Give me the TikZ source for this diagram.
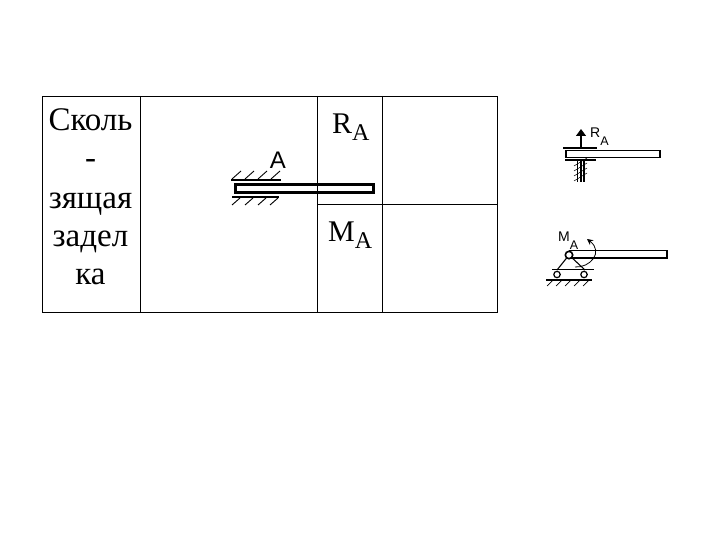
\documentclass[tikz,border=0pt]{standalone}
\usepackage{fontspec}
\setmainfont{Liberation Serif}
\newfontfamily\labelfont{Liberation Sans}
\usetikzlibrary{arrows.meta}
\newcommand{\cellsub}[1]{\raisebox{-7pt}{\fontsize{24}{24}\selectfont #1}}
\newcommand{\schemesub}[1]{\raisebox{-8pt}{\fontsize{12.5}{12.5}\selectfont #1}}
\tikzset{
    celltext/.style={font=\fontsize{33}{38}\selectfont, inner sep=0pt},
    schemetext/.style={font=\labelfont\fontsize{14}{14}\selectfont, inner sep=0pt},
    hatch/.style={line width=0.9}
}
\begin{document}
\begin{tikzpicture}[x=1pt,y=-1pt]
\useasboundingbox (0,0) rectangle (720,540);

% table
\draw [line width=0.8] (42,96) rectangle (497,312);
\foreach \x in {140,317,382}
    \draw [line width=0.8] (\x,96) -- (\x,312);
\draw [line width=0.8] (317,204) -- (497,204);

\node [celltext, anchor=base] (name1) at (90.5,131) {Сколь};
\node [celltext, anchor=base] (name2) at (90.5,169) {-};
\node [celltext, anchor=base] (name3) at (90.5,208) {зящая};
\node [celltext, anchor=base] (name4) at (90.5,246) {задел};
\node [celltext, anchor=base] (name5) at (90.5,284) {ка};
\node [celltext, anchor=base west, font=\fontsize{30}{30}\selectfont] (ra) at (332,134) {R\cellsub{A}};
\node [celltext, anchor=base west, font=\fontsize{30}{30}\selectfont] (ma) at (328,241) {M\cellsub{A}};

% clamped beam
\draw [line width=3] (235,184.5) rectangle (373,192.5);
\draw [line width=2.4] (231,180) -- (281,180);
\draw [line width=2.4] (232,197) -- (279,197);
\foreach \x in {232,245,258,271}
    \draw [hatch] (\x,179) -- (\x+9,171);
\foreach \x in {232,245,258,270}
    \draw [hatch] (\x,205) -- (\x+8,198);
\node [font=\labelfont\fontsize{24}{24}\selectfont, inner sep=0pt] (a) at (278,160) {A};

% top support
\draw [line width=1.8] (566,150.5) rectangle (660,157.5);
\draw [line width=1.4] (563,148) -- (597,148);
\draw [line width=1.4] (565,160) -- (596,160);
\draw [-{Triangle[length=7pt,width=10pt]}, line width=1.2] (581,148) -- (581,129);
\foreach \x in {577.5,581,584}
    \draw [line width=1.1] (\x,160) -- (\x,182);
\foreach \y in {166,171,176,181}
    \draw [line width=0.5] (574,\y) -- (587,\y-8);
\node [schemetext, anchor=base west] (ra2) at (590,138) {R\schemesub{A}};

% bottom support
\draw [line width=1.8] (570,250.5) rectangle (667,258);
\draw [line width=1.1] (569,255) -- (557,270);
\draw [line width=1.1] (569,255) -- (585,270);
\draw [line width=1.6, fill=white] (569,255) circle (3.7);
\draw [line width=1.5] (552,269.5) -- (594,269.5);
\draw [line width=1.2, fill=white] (557,274.5) circle (3.2);
\draw [line width=1.2, fill=white] (584,274.5) circle (3.2);
\draw [line width=1.5] (546,280) -- (592,280);
\foreach \x in {547,556,565,574,583}
    \draw [line width=0.7] (\x,286) -- (\x+6,280);
\draw [line width=0.8, -{Stealth[length=6pt,width=6pt]}] (575,267) .. controls (590,268) and (604,252) .. (587,239);
\node [schemetext, anchor=base west] (ma2) at (558,241) {M\schemesub{A}};

\end{tikzpicture}
\end{document}
